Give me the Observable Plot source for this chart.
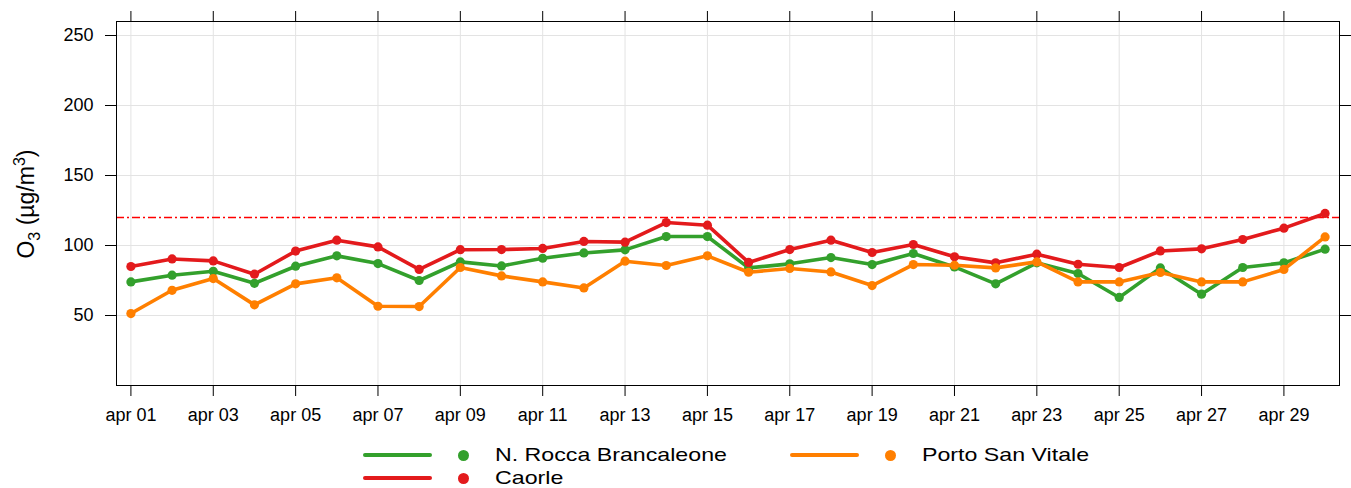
<!DOCTYPE html>
<html><head><meta charset="utf-8">
<script src="https://cdn.jsdelivr.net/npm/d3@7"></script>
<script src="https://cdn.jsdelivr.net/npm/@observablehq/plot@0.6"></script>
<style>
body{margin:0;background:#fff;font-family:"Liberation Sans",Arial,sans-serif;}
#wrap{position:relative;width:1351px;height:488px;overflow:hidden;}
.lline{position:absolute;height:4px;border-radius:2px;}
.ldot{position:absolute;width:11px;height:11px;border-radius:50%;}
.ltxt{position:absolute;font-size:19px;line-height:20px;white-space:nowrap;color:#000;transform:scaleX(1.22);transform-origin:left center;}
</style></head><body><div id="wrap"></div>
<script>
const days = ["2021-04-01","2021-04-02","2021-04-03","2021-04-04","2021-04-05","2021-04-06","2021-04-07","2021-04-08","2021-04-09","2021-04-10",
  "2021-04-11","2021-04-12","2021-04-13","2021-04-14","2021-04-15","2021-04-16","2021-04-17","2021-04-18","2021-04-19","2021-04-20",
  "2021-04-21","2021-04-22","2021-04-23","2021-04-24","2021-04-25","2021-04-26","2021-04-27","2021-04-28","2021-04-29","2021-04-30"];
const seriesNames = ["N. Rocca Brancaleone","Caorle","Porto San Vitale"];
const seriesColors = ["#33A02C","#E31A1C","#FF7F00"];
const roccaBrancaleone = [74,78.8,81.6,73,85.2,92.6,87.1,75,88.3,85.4,90.9,94.7,96.9,106.4,106.4,84,86.9,91.4,86.4,94.3,84.7,72.6,87.6,80,62.9,84,65.2,84.3,87.6,97.4];
const caorle = [85,90.4,89,79.5,96,103.8,99,82.9,97,97.1,97.9,102.9,102.4,116.4,114.5,87.9,97.1,103.8,95,100.7,91.9,87.6,93.8,86.6,84.3,96.1,97.6,104.3,112.4,122.9];
const portoSanVitale = [51.4,68,76.4,57.6,72.6,76.9,56.6,56.4,84.3,78.3,74,69.7,88.8,85.7,92.6,80.9,83.6,81.1,71.4,86.4,85.9,84,88.3,74,74,80.7,74,74,82.9,106.1];
const xTickDays = ["2021-04-01","2021-04-03","2021-04-05","2021-04-07","2021-04-09","2021-04-11","2021-04-13","2021-04-15","2021-04-17","2021-04-19","2021-04-21","2021-04-23","2021-04-25","2021-04-27","2021-04-29"];
const yTicks = [50,100,150,200,250];
const limitValue = 120;

const parse = d3.utcParse("%Y-%m-%d");
const dates = days.map(parse);
const xTicks = xTickDays.map(parse);
const valuesBySeries = [roccaBrancaleone, caorle, portoSanVitale];
const tables = seriesNames.map((s,i)=>dates.map((d,j)=>({date:d, value:valuesBySeries[i][j], series:s})));
const DAY = 864e5;
const xDomain = [new Date(+dates[0]-0.35*DAY), new Date(+dates[dates.length-1]+0.35*DAY)];

const seriesMarks = [];
tables.forEach(t=>{
  seriesMarks.push(Plot.line(t,{x:"date",y:"value",stroke:"series",strokeWidth:3.6}));
  seriesMarks.push(Plot.dot(t,{x:"date",y:"value",fill:"series",r:4.6}));
});
const fmt = d3.utcFormat("%d");
const chart = Plot.plot({
  width:1351, height:430,
  marginLeft:116, marginRight:12, marginTop:21, marginBottom:45,
  style:{fontFamily:'"Liberation Sans",Arial,sans-serif', fontSize:"18px", color:"#000", background:"#fff"},
  x:{type:"utc", domain:xDomain},
  y:{domain:[0,260]},
  color:{domain:seriesNames, range:seriesColors},
  marks:[
    Plot.gridX(xTicks,{stroke:"#e3e3e3",strokeOpacity:1}),
    Plot.gridY(yTicks,{stroke:"#e3e3e3",strokeOpacity:1}),
    Plot.ruleY([limitValue],{stroke:"#ff0000",strokeWidth:1.5,strokeDasharray:"8,3,2,3"}),
    ...seriesMarks,
    Plot.frame({stroke:"#000"}),
    Plot.axisX(xTicks,{anchor:"bottom",tickSize:11,tickPadding:12,tickFormat:d=>"apr "+fmt(d),label:null}),
    Plot.axisX(xTicks,{anchor:"top",tickSize:11,tickFormat:()=>"",label:null}),
    Plot.axisY(yTicks,{anchor:"left",tickSize:11,tickPadding:12,label:null}),
    Plot.axisY(yTicks,{anchor:"right",tickSize:11,tickFormat:()=>"",label:null})
  ]
});
const wrap = document.getElementById("wrap");
wrap.appendChild(chart);

// y axis label with sub/superscript
const svg = d3.select(chart);
const lab = svg.append("text")
  .attr("transform","translate(34,204) rotate(-90)")
  .attr("text-anchor","middle")
  .attr("font-size","23px")
  .attr("fill","#000");
lab.append("tspan").text("O");
lab.append("tspan").attr("font-size","16px").attr("dy","6").text("3");
lab.append("tspan").attr("dy","-6").text(" (µg/m");
lab.append("tspan").attr("font-size","16px").attr("dy","-9").text("3");
lab.append("tspan").attr("dy","9").text(")");

// legend
const legendItems = [
  {name:seriesNames[0], color:seriesColors[0], col:0, row:0},
  {name:seriesNames[2], color:seriesColors[2], col:1, row:0},
  {name:seriesNames[1], color:seriesColors[1], col:0, row:1}
];
const colX = [363, 790];
const rowY = [455, 478];
legendItems.forEach(it=>{
  const x0 = colX[it.col], yc = rowY[it.row];
  const l = document.createElement("div"); l.className="lline";
  l.style.left=x0+"px"; l.style.top=(yc-2)+"px"; l.style.width="69px"; l.style.background=it.color;
  const d = document.createElement("div"); d.className="ldot";
  d.style.left=(x0+100-5.5)+"px"; d.style.top=(yc-5.5)+"px"; d.style.background=it.color;
  const t = document.createElement("div"); t.className="ltxt";
  t.style.left=(x0+132)+"px"; t.style.top=(yc-10)+"px"; t.textContent=it.name;
  wrap.append(l,d,t);
});
</script>
</body></html>
